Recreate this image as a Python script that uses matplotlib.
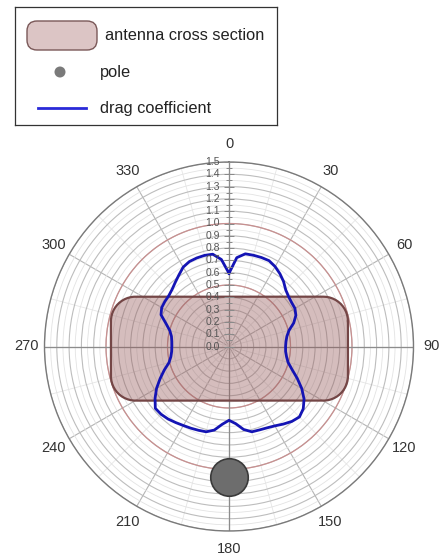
import numpy as np
import matplotlib
matplotlib.use("Agg")
import matplotlib.pyplot as plt
from matplotlib.patches import FancyBboxPatch, Circle
from matplotlib.lines import Line2D

plt.rcParams['font.family'] = ['Liberation Sans', 'DejaVu Sans']

# ---------------- data ----------------
angle_deg = list(range(0, 360, 5))
drag_coefficient = [
    0.595, 0.725, 0.765, 0.768, 0.770, 0.770, 0.750, 0.722, 0.690, 0.652,
    0.632, 0.622, 0.619, 0.600, 0.560, 0.505, 0.478, 0.465, 0.460, 0.462,
    0.475, 0.497, 0.545, 0.612, 0.683, 0.745, 0.788, 0.810, 0.795, 0.770,
    0.745, 0.730, 0.722, 0.718, 0.685, 0.630, 0.600, 0.635, 0.690, 0.718,
    0.725, 0.733, 0.742, 0.755, 0.770, 0.780, 0.782, 0.734, 0.680, 0.618,
    0.560, 0.505, 0.480, 0.468, 0.465, 0.467, 0.475, 0.498, 0.545, 0.610,
    0.632, 0.637, 0.640, 0.655, 0.680, 0.710, 0.745, 0.762, 0.766, 0.767,
    0.762, 0.710,
]
theta_tick_deg = list(range(0, 360, 30))
theta_tick_labels = [str(a) for a in theta_tick_deg]
r_tick_values = [round(0.1 * i, 1) for i in range(16)]
red_rings = [0.5, 1.0]

# antenna cross section (cartesian, same units as radius)
antenna_x = (-0.96, 0.967)
antenna_y = (-0.44, 0.405)
antenna_corner = 0.2
# pole position (polar)
pole_angle_deg = 180
pole_r = 1.06

legend_labels = ["antenna cross section", "pole", "drag coefficient"]

# ---------------- figure ----------------
W, H = 441, 559
fig = plt.figure(figsize=(W / 100, H / 100), dpi=100)
cx, cy, R = 229, 346.5, 184.5
ax = fig.add_axes([(cx - R) / W, (H - cy - R) / H, 2 * R / W, 2 * R / H],
                  projection='polar')
ax.set_theta_zero_location('N')
ax.set_theta_direction(-1)
ax.set_ylim(0, 1.5)
ax.set_axisbelow(True)

ax.set_xticks(np.radians(theta_tick_deg))
ax.set_xticklabels(theta_tick_labels, fontsize=10.5, color='#333333')
ax.set_xticks(np.radians(np.arange(15, 360, 30)), minor=True)
ax.tick_params(axis='x', which='major', length=0, pad=6)
ax.tick_params(axis='x', which='minor', direction='in', length=5,
               color='#8a8a8a', width=0.8)
ax.set_yticks(r_tick_values)
ax.set_yticks(np.arange(0.05, 1.5, 0.1), minor=True)
ax.set_yticklabels([])
ax.tick_params(axis='y', which='both', length=0)
ax.xaxis.grid(True, which='major', color='#b5b5b5', lw=0.8)
ax.xaxis.grid(True, which='minor', color='#e6e6e6', lw=0.6)
ax.yaxis.grid(True, which='major', color='#bdbdbd', lw=0.8)
ax.yaxis.grid(True, which='minor', color='#e3e3e3', lw=0.6)
ax.spines['polar'].set_color('#7a7a7a')
ax.spines['polar'].set_linewidth(1.0)

full = np.linspace(0, 2 * np.pi, 400)
for rr in red_rings:
    ax.plot(full, np.full_like(full, rr), color='#c99090', lw=0.9, zorder=1.5)
for a in [0, 90, 180, 270]:
    ax.plot([np.radians(a)] * 2, [0, 1.5], color='#8c8c8c', lw=0.9, zorder=1.6)

# antenna cross section outline (rounded rectangle)
def rounded_rect(x0, x1, y0, y1, rc, n_edge=80, n_arc=25):
    xs, ys = [], []
    corners = [(x1 - rc, y1 - rc, 0, 90), (x0 + rc, y1 - rc, 90, 180),
               (x0 + rc, y0 + rc, 180, 270), (x1 - rc, y0 + rc, 270, 360)]
    prev = None
    for (ccx, ccy, a0, a1) in corners:
        t = np.radians(np.linspace(a0, a1, n_arc))
        px = ccx + rc * np.cos(t)
        py = ccy + rc * np.sin(t)
        if prev is not None:
            xs.extend(np.linspace(prev[0], px[0], n_edge)[1:-1])
            ys.extend(np.linspace(prev[1], py[0], n_edge)[1:-1])
        xs.extend(px); ys.extend(py)
        prev = (px[-1], py[-1])
    xs.extend(np.linspace(prev[0], xs[0], n_edge)[1:])
    ys.extend(np.linspace(prev[1], ys[0], n_edge)[1:])
    return np.array(xs), np.array(ys)

rx, ry = rounded_rect(antenna_x[0], antenna_x[1], antenna_y[0], antenna_y[1],
                      antenna_corner)
th = np.unwrap(np.arctan2(rx, ry))
rad = np.hypot(rx, ry)
ax.fill(th, rad, facecolor=(150 / 255, 92 / 255, 92 / 255), alpha=0.40,
        edgecolor='none', zorder=2)
ax.plot(th, rad, color='#744646', lw=1.6, zorder=2.2)

# drag coefficient curve
th_d = np.radians(angle_deg + [360])
r_d = drag_coefficient + [drag_coefficient[0]]
ax.plot(th_d, r_d, color='#1414b4', lw=2.0, zorder=3)

# pole
ax.plot([np.radians(pole_angle_deg)], [pole_r], marker='o', ms=27,
        mfc='#6d6d6d', mec='#3a3a3a', mew=1.2, ls='none', zorder=4)

# radial labels & tick dashes along 0 deg
for v in r_tick_values:
    ax.annotate(f"{v:.1f}", xy=(0, v), xytext=(-6.5, 0),
                textcoords='offset points', ha='right', va='center',
                fontsize=7.5, color='#555555', zorder=5)
ax.plot(np.zeros(len(r_tick_values)), r_tick_values, ls='none', marker='_',
        ms=7, mew=0.7, color='#8a8a8a', zorder=5)
ax.plot(np.zeros(15), np.arange(0.05, 1.5, 0.1), ls='none', marker='_',
        ms=4, mew=0.7, color='#8a8a8a', zorder=5)

# ---------------- legend (drawn box) ----------------
lx0, ly0, lx1, ly1 = 15, 7, 277, 125
lax = fig.add_axes([lx0 / W, (H - ly1) / H, (lx1 - lx0) / W, (ly1 - ly0) / H])
lax.set_xlim(0, lx1 - lx0)
lax.set_ylim(ly1 - ly0, 0)
lax.set_xticks([]); lax.set_yticks([])
for s in lax.spines.values():
    s.set_color('#333333'); s.set_linewidth(0.9)

lax.add_patch(FancyBboxPatch((12, 14), 70, 29,
                             boxstyle='round,pad=0,rounding_size=10',
                             facecolor='#dcc5c5', edgecolor='#7a5858', lw=1.0))
lax.add_patch(Circle((45, 65), 5.5, facecolor='#7a7a7a', edgecolor='none'))
lax.add_line(Line2D([23, 71], [101, 101], color='#2a2ad8', lw=2.0))
text_pos = [(90, 28), (85, 65), (85, 101)]
for (tx, ty), lab in zip(text_pos, legend_labels):
    lax.text(tx, ty, lab, fontsize=11.8, color='#222222', ha='left',
             va='center')

fig.savefig('out.png', dpi=100, facecolor='white')
